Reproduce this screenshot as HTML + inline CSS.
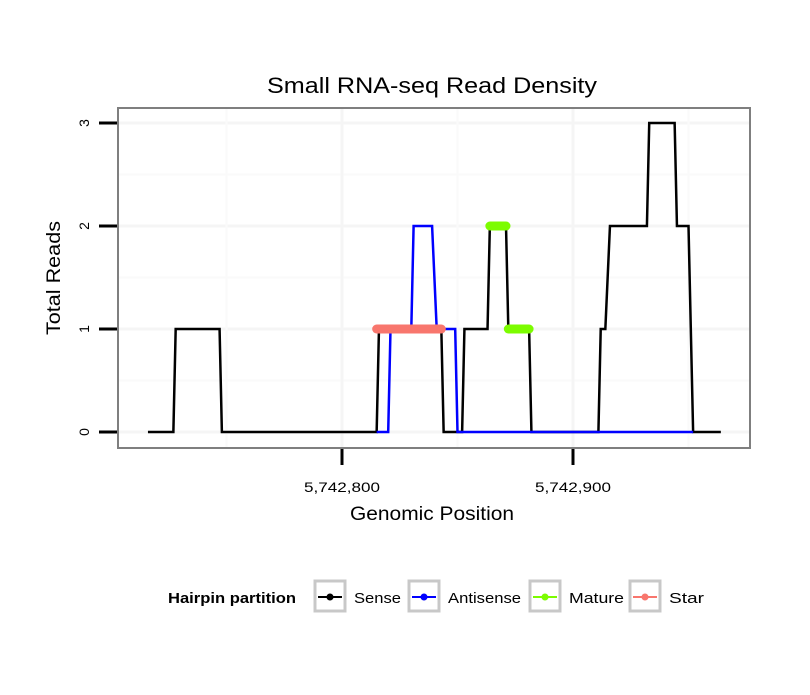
<!DOCTYPE html>
<html><head><meta charset="utf-8"><style>
body{margin:0;background:#fff;font-family:"Liberation Sans",sans-serif}
</style></head><body>
<svg id="chart" width="810" height="690" xmlns="http://www.w3.org/2000/svg" font-family="Liberation Sans, sans-serif">
<text x="432" y="93" font-size="22" text-anchor="middle" textLength="330" lengthAdjust="spacingAndGlyphs">Small RNA-seq Read Density</text>
<g id="grid"></g>
<rect x="118" y="108" width="632" height="340" fill="none" stroke="#7f7f7f" stroke-width="2"/>
<g id="axes"></g>
<g id="series"></g>
<text x="432" y="520" font-size="19" text-anchor="middle" textLength="164" lengthAdjust="spacingAndGlyphs">Genomic Position</text>
<text transform="translate(60,278) rotate(-90)" font-size="19" text-anchor="middle" textLength="114" lengthAdjust="spacingAndGlyphs">Total Reads</text>
<g font-size="15">
<text x="168" y="603" font-weight="bold" textLength="128" lengthAdjust="spacingAndGlyphs">Hairpin partition</text>
<g id="legend"></g>
</g>
</svg>
<script>
const senseX=[5742716,5742727,5742728,5742747,5742748,5742815,5742816,5742843,5742844,5742852,5742853,5742863,5742864,5742871,5742872,5742881,5742882,5742911,5742912,5742914,5742916,5742932,5742933,5742944,5742945,5742950,5742952,5742964];
const senseY=[0,0,1,1,0,0,1,1,0,0,1,1,2,2,1,1,0,0,1,1,2,2,3,3,2,2,0,0];
const antiX=[5742815,5742820,5742821,5742830,5742831,5742839,5742841,5742849,5742850,5742952];
const antiY=[0,0,1,1,2,2,1,1,0,0];
const matureX=[[5742864,5742871],[5742872,5742881]];
const matureY=[2,1];
const starX=[[5742815,5742843]];
const starY=[1];
const xTicks=[5742800,5742900];
const xTickLabels=["5,742,800","5,742,900"];
const yTicks=[0,1,2,3];
const NS="http://www.w3.org/2000/svg";
function sx(v){return 342+(v-5742800)*2.31;}
function sy(v){return 432-v*103;}
function mk(t,a,p){const e=document.createElementNS(NS,t);for(const k in a)e.setAttribute(k,a[k]);p.appendChild(e);return e;}
const grid=document.getElementById('grid'),axes=document.getElementById('axes'),ser=document.getElementById('series');
[0.5,1.5,2.5].forEach(v=>{const l=mk('line',{x1:118,x2:750,y1:sy(v),y2:sy(v),stroke:'#fafafa','stroke-width':2},grid);});
yTicks.forEach(v=>{const l=mk('line',{x1:118,x2:750,y1:sy(v),y2:sy(v),stroke:'#f5f5f5','stroke-width':3},grid);});
[5742750,5742850,5742950].forEach(v=>{const l=mk('line',{x1:sx(v),x2:sx(v),y1:108,y2:448,stroke:'#fafafa','stroke-width':2},grid);});
xTicks.forEach(v=>{const l=mk('line',{x1:sx(v),x2:sx(v),y1:108,y2:448,stroke:'#f5f5f5','stroke-width':3},grid);});
yTicks.forEach(v=>{const l=mk('line',{x1:99,x2:117,y1:sy(v),y2:sy(v),stroke:'#000','stroke-width':3},axes);
const t=mk('text',{transform:`translate(89,${sy(v)}) rotate(-90)`,'font-size':14,'text-anchor':'middle'},axes);t.textContent=v;});
xTicks.forEach((v,i)=>{const l=mk('line',{x1:sx(v),x2:sx(v),y1:449,y2:465,stroke:'#000','stroke-width':3},axes);
const t=mk('text',{x:sx(v),y:492,'font-size':14,'text-anchor':'middle',textLength:76,lengthAdjust:'spacingAndGlyphs'},axes);t.textContent=xTickLabels[i];});
function line(xs,ys,col,name){const p=mk('polyline',{points:xs.map((x,i)=>sx(x)+','+sy(ys[i])).join(' '),fill:'none',stroke:col,'stroke-width':2.5,'stroke-linejoin':'miter'},ser);}
line(senseX,senseY,'#000','sense-line');
line(antiX,antiY,'#0000ff','antisense-line');
function seg(xs,ys,col,name){xs.forEach((r,i)=>{const l=mk('line',{x1:sx(r[0]),x2:sx(r[1]),y1:sy(ys[i]),y2:sy(ys[i]),stroke:col,'stroke-width':9,'stroke-linecap':'round'},ser);});}
seg(starX,starY,'#f8766d','star-segment');
seg(matureX,matureY,'#7cfc00','mature-segment');
const lg=document.getElementById('legend');
const items=[["Sense","#000",314,47],["Antisense","#0000ff",408,73],["Mature","#7cfc00",529,55],["Star","#f8766d",629,35]];
items.forEach(([n,c,x,w])=>{const g=mk('g',{},lg);
mk('rect',{x:x+1,y:581,width:30,height:30,fill:'#fff',stroke:'#c8c8c8','stroke-width':3},g);
mk('line',{x1:x+4,x2:x+28,y1:597,y2:597,stroke:c,'stroke-width':2},g);
mk('circle',{cx:x+16,cy:597,r:3.5,fill:c},g);
const t=mk('text',{x:x+40,y:603,textLength:w,lengthAdjust:'spacingAndGlyphs'},g);t.textContent=n;});
</script>
</body></html>
